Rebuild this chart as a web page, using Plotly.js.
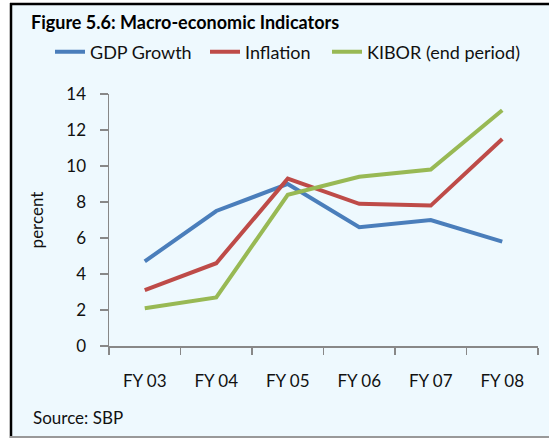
<!DOCTYPE html>
<html>
<head>
<meta charset="utf-8">
<script src="https://cdn.plot.ly/plotly-3.0.1.min.js"></script>
<style>
  body { margin: 0; background: #fff; }
  #chart { width: 549px; height: 440px; }
</style>
</head>
<body>
<div id="chart"></div>
<script>
const years = ["FY03", "FY04", "FY05", "FY06", "FY07", "FY08"];
const tickText = ["FY 03", "FY 04", "FY 05", "FY 06", "FY 07", "FY 08"];
const gdpGrowth = [4.7, 7.5, 9.0, 6.6, 7.0, 5.8];
const inflation = [3.1, 4.6, 9.3, 7.9, 7.8, 11.5];
const kibor = [2.1, 2.7, 8.4, 9.4, 9.8, 13.1];

const font = "Lato, 'Open Sans', sans-serif";
const fs = 17;

// plot area: x 109..538, y 94..346
const ml = 109, mt = 94, pw = 429, ph = 252;
const px = (x) => (x - ml) / pw;
const py = (y) => (mt + ph - y) / ph;

function trace(name, y, color, legend) {
    return {
        name: name,
        x: years,
        y: y,
        type: 'scatter',
        mode: 'lines',
        line: { color: color, width: 4 },
        legend: legend,
        hoverinfo: 'skip'
    };
}

const traces = [
    trace("GDP Growth", gdpGrowth, '#4a7ebb', 'legend'),
    trace("Inflation", inflation, '#be4b48', 'legend2'),
    trace("KIBOR (end period)", kibor, '#98b954', 'legend3')
];

// one legend per entry, so the entries sit packed like the original
function legendAt(x) {
    return {
        orientation: 'h',
        x: px(x), xanchor: 'left',
        y: py(52), yanchor: 'middle',
        bgcolor: 'rgba(0,0,0,0)',
        font: { family: font, size: 18, color: '#111' }
    };
}

const axisStyle = {
    ticks: 'outside',
    tickcolor: '#888',
    tickwidth: 1.5,
    showline: true,
    linecolor: '#888',
    linewidth: 1.5,
    showgrid: false,
    zeroline: false,
    tickfont: { family: font, size: fs, color: '#111' },
    fixedrange: true
};

const layout = {
    width: 549,
    height: 440,
    margin: { l: ml, r: 549 - ml - pw, t: mt, b: 440 - mt - ph },
    paper_bgcolor: '#ffffff',
    plot_bgcolor: 'rgba(0,0,0,0)',
    font: { family: font, size: fs, color: '#111' },
    title: {
        text: "<b>Figure 5.6: Macro-economic Indicators</b>",
        font: { family: font, size: 18, color: '#000' },
        x: 31 / 549, xanchor: 'left',
        y: 1 - 23 / 440, yanchor: 'middle'
    },
    showlegend: true,
    legend: legendAt(50),
    legend2: legendAt(205),
    legend3: legendAt(327),
    xaxis: Object.assign({}, axisStyle, {
        type: 'category',
        range: [-0.5, 5.5],
        tickvals: years,
        ticktext: tickText,
        tickson: 'boundaries',
        ticklen: 7,
        ticklabelstandoff: 19
    }),
    yaxis: Object.assign({}, axisStyle, {
        range: [0, 14],
        dtick: 2,
        ticklen: 8,
        ticklabelstandoff: 10,
        title: { text: "percent", font: { family: font, size: fs, color: '#111' }, standoff: 18 }
    }),
    shapes: [
        {
            type: 'rect', xref: 'paper', yref: 'paper', layer: 'below',
            x0: px(11), x1: px(560), y0: py(437), y1: py(4),
            fillcolor: '#eef9fe',
            line: { width: 0 }
        },
        { type: 'line', xref: 'paper', yref: 'paper', layer: 'below',
          x0: px(11), x1: px(11), y0: py(438), y1: py(3), line: { color: '#000', width: 2.5 } },
        { type: 'line', xref: 'paper', yref: 'paper', layer: 'below',
          x0: px(10), x1: px(560), y0: py(4), y1: py(4), line: { color: '#000', width: 2.5 } },
        { type: 'line', xref: 'paper', yref: 'paper', layer: 'below',
          x0: px(10), x1: px(560), y0: py(437), y1: py(437), line: { color: '#999', width: 2 } }
    ],
    annotations: [{
        text: "Source: SBP",
        xref: 'paper', yref: 'paper',
        x: px(31), xanchor: 'left',
        y: py(418), yanchor: 'middle',
        showarrow: false,
        font: { family: font, size: fs, color: '#111' }
    }]
};

Plotly.newPlot('chart', traces, layout, { displayModeBar: false, staticPlot: true });
</script>
</body>
</html>
